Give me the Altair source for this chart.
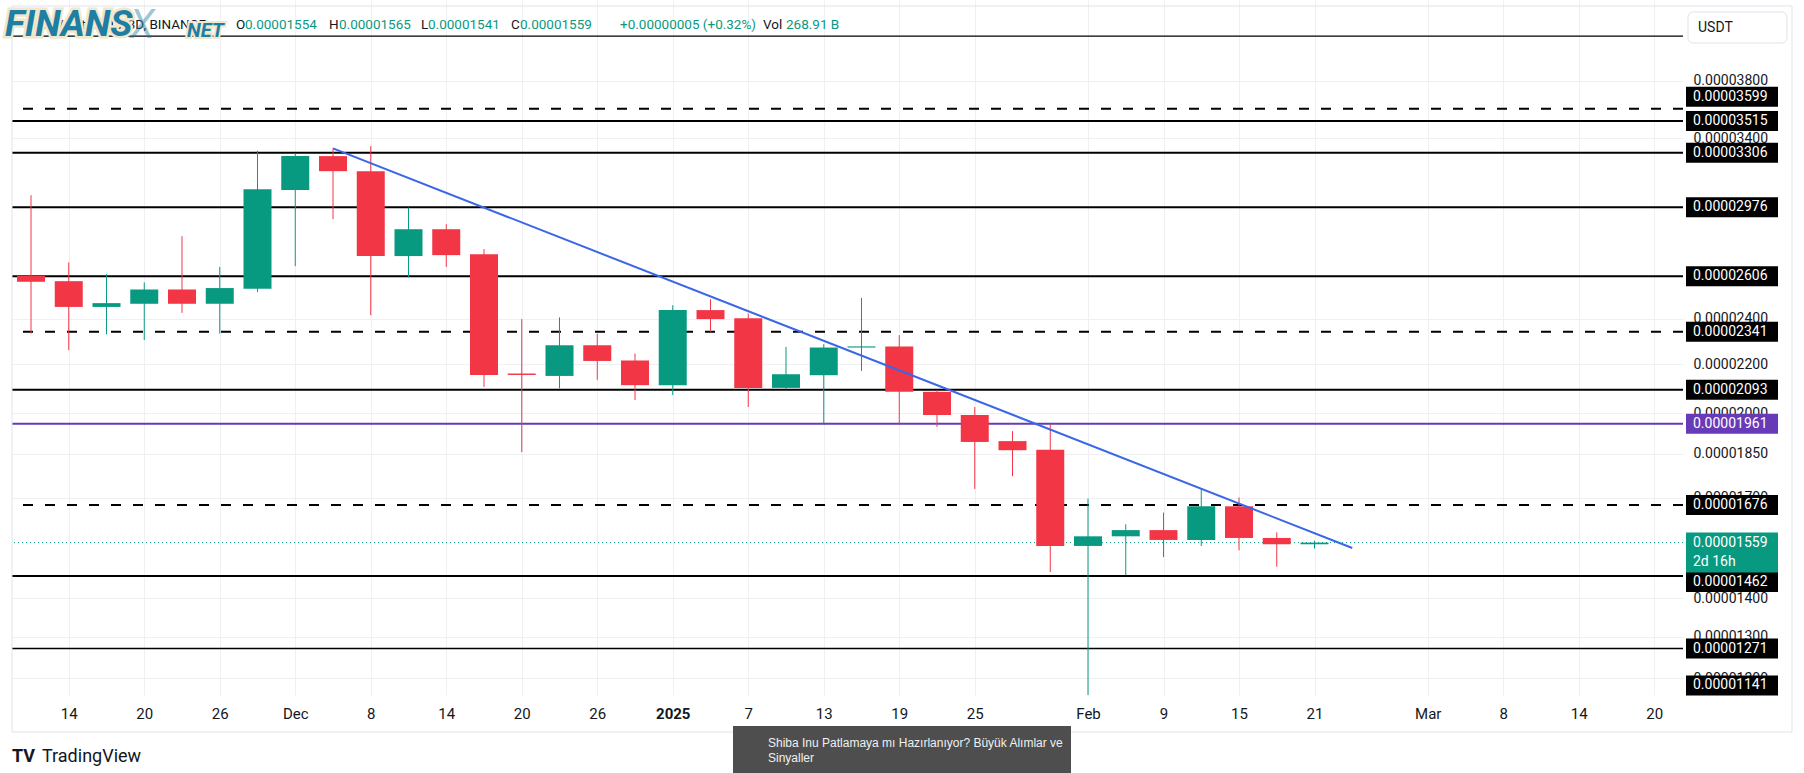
import altair as alt
import pandas as pd

# ---------------- data ----------------
bar_start = "2024-11-11"
n_bars = 35
dates = [d.strftime("%Y-%m-%d") for d in pd.date_range(bar_start, periods=n_bars, freq="3D")]

opens = [2608e-8, 2581e-8, 2456e-8, 2471e-8, 2540e-8, 2471e-8, 2543e-8, 3077e-8, 3285e-8, 3191e-8,
         2709e-8, 2853e-8, 2719e-8, 2160e-8, 2150e-8, 2281e-8, 2215e-8, 2112e-8, 2441e-8, 2403e-8,
         2101e-8, 2153e-8, 2271e-8, 2276e-8, 2085e-8, 1994e-8, 1896e-8, 1865e-8, 1549e-8, 1578e-8,
         1597e-8, 1567e-8, 1672e-8, 1573e-8, 1554e-8]
highs = [3047e-8, 2676e-8, 2616e-8, 2575e-8, 2815e-8, 2653e-8, 3319e-8, 3302e-8, 3334e-8, 3349e-8,
         2975e-8, 2881e-8, 2746e-8, 2399e-8, 2407e-8, 2332e-8, 2245e-8, 2464e-8, 2493e-8, 2425e-8,
         2274e-8, 2286e-8, 2499e-8, 2326e-8, 2093e-8, 2025e-8, 1933e-8, 1962e-8, 1697e-8, 1615e-8,
         1652e-8, 1732e-8, 1701e-8, 1590e-8, 1565e-8]
lows = [2333e-8, 2260e-8, 2330e-8, 2304e-8, 2428e-8, 2333e-8, 2528e-8, 2657e-8, 2909e-8, 2417e-8,
        2600e-8, 2653e-8, 2105e-8, 1856e-8, 2099e-8, 2134e-8, 2052e-8, 2072e-8, 2341e-8, 2025e-8,
        2095e-8, 1961e-8, 2171e-8, 1961e-8, 1949e-8, 1729e-8, 1772e-8, 1473e-8, 1110e-8, 1464e-8,
        1516e-8, 1549e-8, 1536e-8, 1488e-8, 1541e-8]
closes = [2578e-8, 2456e-8, 2474e-8, 2540e-8, 2471e-8, 2547e-8, 3081e-8, 3285e-8, 3191e-8, 2709e-8,
          2853e-8, 2714e-8, 2154e-8, 2154e-8, 2281e-8, 2213e-8, 2112e-8, 2441e-8, 2399e-8, 2101e-8,
          2157e-8, 2271e-8, 2276e-8, 2085e-8, 1994e-8, 1893e-8, 1863e-8, 1549e-8, 1578e-8, 1597e-8,
          1567e-8, 1672e-8, 1573e-8, 1554e-8, 1559e-8]

solid_levels = [3515e-8, 3306e-8, 2976e-8, 2606e-8, 2093e-8, 1462e-8]
dashed_levels = [3599e-8, 2341e-8, 1676e-8]
thin_levels = [4141e-8, 1271e-8, 1141e-8]
purple_level = 1961e-8
last_price = 1559e-8
label_levels = [3599e-8, 3515e-8, 3306e-8, 2976e-8, 2606e-8, 2341e-8, 2093e-8, 1676e-8, 1462e-8, 1271e-8, 1141e-8]

trend_dates = ["2024-12-05", "2025-02-24"]
trend_prices = [3334e-8, 1543e-8]

ytick_values = [3800e-8, 3400e-8, 2400e-8, 2200e-8, 2000e-8, 1850e-8, 1700e-8, 1400e-8, 1300e-8, 1200e-8]
xtick_dates = ["2024-11-14", "2024-11-20", "2024-11-26", "2024-12-02", "2024-12-08", "2024-12-14",
               "2024-12-20", "2024-12-26", "2025-01-01", "2025-01-07", "2025-01-13", "2025-01-19",
               "2025-01-25", "2025-02-03", "2025-02-09", "2025-02-15", "2025-02-21", "2025-03-02",
               "2025-03-08", "2025-03-14", "2025-03-20"]
xtick_labels = ["14", "20", "26", "Dec", "8", "14", "20", "26", "2025", "7", "13", "19", "25",
                "Feb", "9", "15", "21", "Mar", "8", "14", "20"]

# ---------------- layout / style ----------------
FONT = "Roboto"
GREEN = "#089981"
RED = "#f23645"
PURPLE = "#673ab7"
BLUE = "#3a66e8"
TXT = "#131722"
GRID = "#eef0f4"
PLOT_W, PLOT_H = 1671, 695
BAR_PX = 37.75          # pixels per 3-day bar
FIRST_X = 19            # first bar centre in plot px
DAY_MS = 86400000
LABEL_FS = 14
HEAD_FS = 13.5


def ms(d):
    return int(pd.Timestamp(d, tz="UTC").value // 10**6)


px_per_ms = BAR_PX / (3 * DAY_MS)
x_start = ms(bar_start) - FIRST_X / px_per_ms
x_end = x_start + PLOT_W / px_per_ms
xs = alt.Scale(type="utc", domain=[x_start, x_end], nice=False, padding=0)
ys = alt.Scale(type="log", domain=[1162e-8, 4439e-8], nice=False, zero=False, padding=0)

tick_ms = [ms(d) for d in xtick_dates]
label_expr = "[" + ",".join("'%s'" % s for s in xtick_labels) + "][indexof([" + \
    ",".join(str(t) for t in tick_ms) + "], time(datum.value))]"
bold_ms = tick_ms[xtick_labels.index("2025")]

x_axis = alt.Axis(values=tick_ms, labelExpr=label_expr, grid=True, gridColor=GRID, domain=False,
                  ticks=False, labelFontSize=15, labelColor=TXT, labelFont=FONT, labelPadding=11,
                  title=None, labelOverlap=False, labelFlush=False,
                  labelFontWeight={"condition": {"test": "time(datum.value) == %d" % bold_ms, "value": "bold"},
                                   "value": "normal"})
y_axis = alt.Axis(orient="right", values=ytick_values, format=".8f", grid=True, gridColor=GRID,
                  domain=False, ticks=False, labelFontSize=LABEL_FS, labelColor=TXT, labelFont=FONT,
                  labelPadding=10, title=None, labelOverlap=False, labelFlush=False, labelAlign="left")


def X(field):
    return alt.X(field, type="temporal", scale=xs, axis=x_axis)


def Y(field):
    return alt.Y(field, type="quantitative", scale=ys, axis=y_axis)


candles = pd.DataFrame({"date": dates, "open": opens, "high": highs, "low": lows, "close": closes})
candles["dir"] = ["up" if c >= o else "down" for o, c in zip(opens, closes)]
color_enc = alt.Color("dir:N", scale=alt.Scale(domain=["up", "down"], range=[GREEN, RED]), legend=None)

layers = []

# level lines
layers.append(alt.Chart(pd.DataFrame({"p": solid_levels})).mark_rule(color="black", strokeWidth=2, clip=True)
              .encode(y=Y("p")))
layers.append(alt.Chart(pd.DataFrame({"p": dashed_levels})).mark_rule(color="black", strokeWidth=2,
              strokeDash=[10, 12], clip=True).encode(y=Y("p")))
layers.append(alt.Chart(pd.DataFrame({"p": thin_levels})).mark_rule(color="black", strokeWidth=1.3, clip=True)
              .encode(y=Y("p")))
layers.append(alt.Chart(pd.DataFrame({"p": [purple_level]})).mark_rule(color=PURPLE, strokeWidth=2, clip=True)
              .encode(y=Y("p")))
layers.append(alt.Chart(pd.DataFrame({"p": [last_price]})).mark_rule(color=GREEN, strokeWidth=1,
              strokeDash=[1, 3], clip=True).encode(y=Y("p")))

# candles
layers.append(alt.Chart(candles).mark_rule(strokeWidth=1, clip=True)
              .encode(x=X("date"), y=Y("low"), y2="high", color=color_enc))
layers.append(alt.Chart(candles).mark_bar(size=28, clip=True)
              .encode(x=X("date"), y=Y("open"), y2="close", color=color_enc))

# trend line
layers.append(alt.Chart(pd.DataFrame({"date": trend_dates, "p": trend_prices}))
              .mark_line(color=BLUE, strokeWidth=2, clip=True).encode(x=X("date"), y=Y("p")))

# price labels on the right
BOX_X1, BOX_X2, TXT_X = 1674, 1766, 1681
label_shift = {3599e-8: -12, 1462e-8: 6, 1141e-8: -19}


def price_label(p, fill, yoff=0, h=20, text=None, text_off=0):
    d = pd.DataFrame({"p": [p], "t": [text if text is not None else "%.8f" % p]})
    box = alt.Chart(d).mark_rect(height=h, yOffset=yoff, color=fill).encode(
        x=alt.value(BOX_X1), x2=alt.value(BOX_X2), y=Y("p"))
    t = alt.Chart(d).mark_text(align="left", baseline="middle", font=FONT, fontSize=LABEL_FS, color="white",
                               yOffset=yoff + text_off).encode(x=alt.value(TXT_X), y=Y("p"), text="t:N")
    return [box, t]


for p in label_levels:
    layers += price_label(p, "black", label_shift.get(p, 0))
layers += price_label(purple_level, PURPLE)
layers += price_label(last_price, GREEN, yoff=10, h=40, text="%.8f" % last_price, text_off=-10)
d2 = pd.DataFrame({"p": [last_price], "t": ["2d 16h"]})
layers.append(alt.Chart(d2).mark_text(align="left", baseline="middle", font=FONT, fontSize=LABEL_FS,
                                      color="white", yOffset=19).encode(x=alt.value(TXT_X), y=Y("p"), text="t:N"))

# ---------------- annotations ----------------
one = alt.Data(values=[{}])


def txt(s, x, y, size=15, color=TXT, **kw):
    return alt.Chart(one).mark_text(text=s, align="left", baseline=kw.pop("baseline", "middle"),
                                    fontSize=size, color=color, font=kw.pop("font", FONT), **kw
                                    ).encode(x=alt.value(x), y=alt.value(y))


def box(x1, x2, y1, y2, **kw):
    return alt.Chart(one).mark_rect(**kw).encode(x=alt.value(x1), x2=alt.value(x2),
                                                 y=alt.value(y1), y2=alt.value(y2))


layers.append(box(0, 1780, 6, 732, fillOpacity=0, stroke="#e0e3eb", strokeWidth=1))

# header
header = [("SHIB / TetherUS, 3D, BINANCE", 13, TXT), ("O", 224, TXT), ("0.00001554", 233, GREEN),
          ("H", 317, TXT), ("0.00001565", 327, GREEN), ("L", 409, TXT), ("0.00001541", 416, GREEN),
          ("C", 499, TXT), ("0.00001559", 508, GREEN), ("+0.00000005 (+0.32%)", 608, GREEN),
          ("Vol", 751, TXT), ("268.91 B", 774, GREEN)]
for s, x, c in header:
    layers.append(txt(s, x, 25, HEAD_FS, c))

# logo
LOGO = "#1f7ea3"
CREAM = "#f1e7cc"
logo_kw = dict(baseline="alphabetic", fontStyle="italic", fontWeight="bold")
layers.append(txt("FINANS", -7, 36, 37, CREAM, stroke=CREAM, strokeWidth=5, **logo_kw))
layers.append(txt("FINANS", -7, 36, 37, LOGO, **logo_kw))
layers.append(txt("X", 118, 38, 40, LOGO, baseline="alphabetic", fontStyle="italic", fontWeight="normal",
                  fillOpacity=0.45))
layers.append(txt("NET", 175, 37, 20, CREAM, stroke=CREAM, strokeWidth=4, **logo_kw))
layers.append(txt("NET", 175, 37, 20, LOGO, **logo_kw))

# USDT box
layers.append(box(1676, 1775, 12, 43, fill="white", stroke="#e0e3eb", strokeWidth=1, cornerRadius=5))
layers.append(txt("USDT", 1686, 28, 14, TXT))

# TradingView footer
layers.append(txt("TV", 0, 757, 18, TXT, fontWeight="bold"))
layers.append(txt("TradingView", 30, 757, 18, TXT))

# news box
layers.append(box(721, 1059, 726, 773, fill="#4e4e4e"))
layers.append(txt("Shiba Inu Patlamaya mı Hazırlanıyor? Büyük Alımlar ve", 756, 743, 12, "#f0f0f0",
                  font="Liberation Sans"))
layers.append(txt("Sinyaller", 756, 758, 12, "#f0f0f0", font="Liberation Sans"))

chart = alt.layer(*layers).properties(
    width=PLOT_W, height=PLOT_H,
    padding={"left": 12, "top": 0, "right": 121, "bottom": 78},
    autosize=alt.AutoSizeParams(type="none"),
    background="white",
).configure_view(stroke=None)

chart.save("out.html", embed_options={"renderer": "svg", "actions": False})
